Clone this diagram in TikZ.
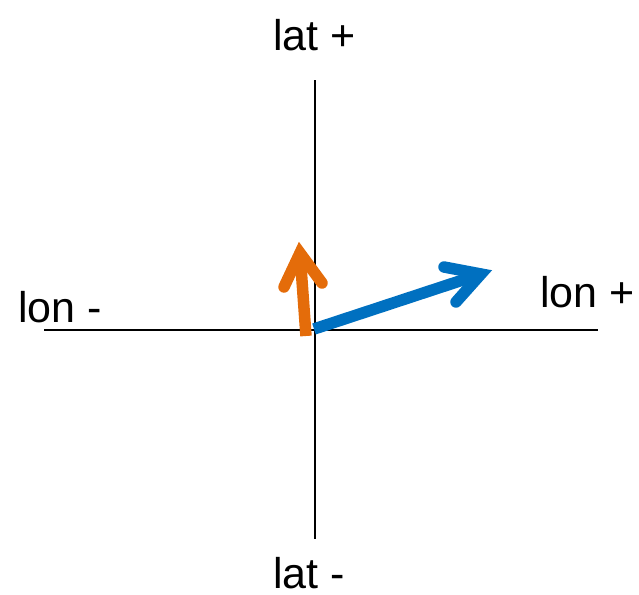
\documentclass[tikz,border=0pt]{standalone}
\usepackage{fontspec}
\setmainfont{Liberation Sans}
\definecolor{arrorange}{HTML}{E46C0A}
\definecolor{arrblue}{HTML}{0070C0}
\begin{document}
\begin{tikzpicture}[x=1pt,y=-1pt,
  axis/.style={line width=2pt,black},
  lbl/.style={inner sep=0pt,text depth=0pt,font=\fontsize{43}{50}\selectfont},
  shaft/.style={line width=11.5pt,line cap=butt},
  head/.style={line width=11.5pt,line cap=round,line join=miter}]
\useasboundingbox (0,0) rectangle (639,594);
% axes
\coordinate (top) at (315,80);
\coordinate (bot) at (315,539);
\coordinate (left) at (44,330);
\coordinate (right) at (598,330);
\draw[axis] (top) -- (bot);
\draw[axis] (left) -- (right);
% labels
\node[lbl,anchor=base west] (latp) at (273,51) {lat +};
\node[lbl,anchor=base west] (latm) at (273,588) {lat -};
\node[lbl,anchor=base west] (lonm) at (18,322) {lon -};
\node[lbl,anchor=base west] (lonp) at (540,307) {lon +};
% orange arrow
\coordinate (oS) at (306,336);
\coordinate (oV) at (300,253);
\coordinate (oL) at (284,287);
\coordinate (oR) at (322,283);
\draw[shaft,arrorange] (oS) -- (oV);
\draw[head,arrorange] (oL) -- (oV) -- (oR);
% blue arrow
\coordinate (bS) at (314,329);
\coordinate (bV) at (481,274);
\coordinate (bU) at (444,267);
\coordinate (bD) at (456,302);
\draw[shaft,arrblue] (bS) -- (bV);
\draw[head,arrblue] (bU) -- (bV) -- (bD);
\end{tikzpicture}
\end{document}
